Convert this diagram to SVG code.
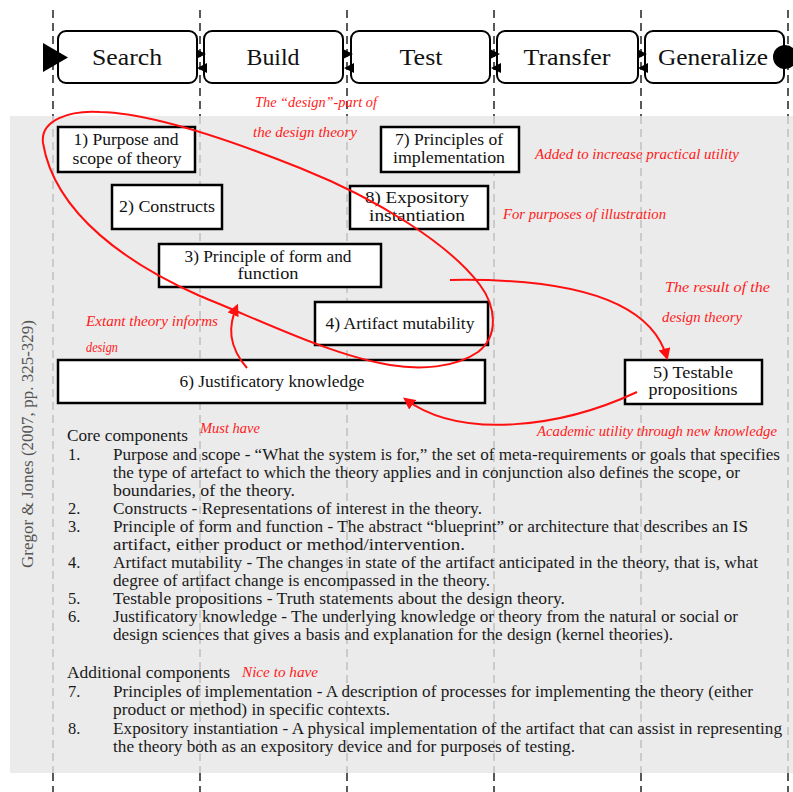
<svg xmlns="http://www.w3.org/2000/svg" width="793" height="792" viewBox="0 0 793 792">
  <defs>
    <style>
      .stage { fill: #fff; stroke: #000; stroke-width: 2; }
      .stage-label { font-family: "Liberation Serif", "DejaVu Serif", serif; font-size: 23px; fill: #111; text-anchor: middle; }
      .node { fill: #fff; stroke: #000; stroke-width: 2.5; }
      .node-label { font-family: "Liberation Serif", "DejaVu Serif", serif; font-size: 16px; fill: #111; text-anchor: middle; }
      .lane-out { stroke: #000; stroke-width: 1.3; stroke-dasharray: 8 5; fill: none; }
      .lane-in { stroke: #aaa; stroke-width: 1; stroke-dasharray: 8 5; fill: none; }
      .body { font-family: "Liberation Serif", "DejaVu Serif", serif; font-size: 16.5px; fill: #1a1a1a; }
      .note { font-family: "Liberation Serif", serif; font-style: italic; font-size: 14px; fill: #ff1a1a; }
      .red { fill: none; stroke: #ff1010; stroke-width: 2; }
      .flow-tip { fill: #000; }
    </style>
    <marker id="redhead" viewBox="0 0 10 10" refX="8" refY="5" markerWidth="6" markerHeight="6" markerUnits="strokeWidth" orient="auto">
      <path d="M0,0 L10,5 L0,10 Z" fill="#ff1010"/>
    </marker>
  </defs>

  <rect width="793" height="792" fill="#fff"/>
  <!-- shaded theory panel -->
  <rect x="10" y="116" width="783" height="657" fill="#ebebeb"/>

  <!-- lane separators -->
  <g id="lanes">
    <path class="lane-out" d="M53,10 V116 M200,10 V116 M347,10 V116 M494,10 V116 M641,10 V116 M788,10 V116"/>
    <path class="lane-in" d="M53,116 V773 M200,116 V773 M347,116 V773 M494,116 V773 M641,116 V773 M788,116 V773"/>
    <path class="lane-out" d="M53,773 V792 M200,773 V792 M347,773 V792 M494,773 V792 M641,773 V792 M788,773 V792"/>
  </g>

  <!-- process stages -->
  <g id="stage-search"><rect class="stage" x="58" y="31" width="139" height="52" rx="8"/><text class="stage-label" x="127" y="65" textLength="70" lengthAdjust="spacingAndGlyphs">Search</text></g>
  <g id="stage-build"><rect class="stage" x="204" y="31" width="139" height="52" rx="8"/><text class="stage-label" x="273" y="65" textLength="53" lengthAdjust="spacingAndGlyphs">Build</text></g>
  <g id="stage-test"><rect class="stage" x="351" y="31" width="139" height="52" rx="8"/><text class="stage-label" x="421" y="65" textLength="43" lengthAdjust="spacingAndGlyphs">Test</text></g>
  <g id="stage-transfer"><rect class="stage" x="497" y="31" width="141" height="52" rx="8"/><text class="stage-label" x="567" y="65" textLength="87" lengthAdjust="spacingAndGlyphs">Transfer</text></g>
  <g id="stage-generalize"><rect class="stage" x="645" y="31" width="139" height="52" rx="8"/><text class="stage-label" x="713" y="65" textLength="110" lengthAdjust="spacingAndGlyphs">Generalize</text></g>

  <!-- start / end and stage hand-offs -->
  <g id="flow">
    <path class="flow-tip" d="M43,43 L68,57.5 L43,72 Z"/>
    <circle cx="785" cy="57" r="12" fill="#000"/>
    <path class="flow-tip" d="M196,49 L206,54 L196,59 Z M207,63 L197,68 L207,73 Z"/>
    <path class="flow-tip" d="M343,49 L353,54 L343,59 Z M354,63 L344,68 L354,73 Z"/>
    <path class="flow-tip" d="M490,49 L500,54 L490,59 Z M501,63 L491,68 L501,73 Z"/>
    <path class="flow-tip" d="M637,49 L647,54 L637,59 Z M648,63 L638,68 L648,73 Z"/>
  </g>

  <!-- components -->
  <g id="node-1"><rect class="node" x="58" y="127" width="137" height="45"/><text class="node-label" x="126" y="145" textLength="105" lengthAdjust="spacingAndGlyphs">1) Purpose and</text><text class="node-label" x="127" y="164" textLength="109" lengthAdjust="spacingAndGlyphs">scope of theory</text></g>
  <g id="node-2"><rect class="node" x="112" y="185" width="110" height="44"/><text class="node-label" x="167" y="212" textLength="96" lengthAdjust="spacingAndGlyphs">2) Constructs</text></g>
  <g id="node-3"><rect class="node" x="159" y="244" width="222" height="43"/><text class="node-label" x="268" y="262" textLength="167" lengthAdjust="spacingAndGlyphs">3) Principle of form and</text><text class="node-label" x="268" y="279" textLength="61" lengthAdjust="spacingAndGlyphs">function</text></g>
  <g id="node-7"><rect class="node" x="381" y="127" width="138" height="45"/><text class="node-label" x="449" y="145" textLength="108" lengthAdjust="spacingAndGlyphs">7) Principles of</text><text class="node-label" x="449" y="163" textLength="112" lengthAdjust="spacingAndGlyphs">implementation</text></g>
  <g id="node-8"><rect class="node" x="350" y="186" width="138" height="43"/><text class="node-label" x="417" y="203" textLength="104" lengthAdjust="spacingAndGlyphs">8) Expository</text><text class="node-label" x="417" y="221" textLength="96" lengthAdjust="spacingAndGlyphs">instantiation</text></g>
  <g id="node-4"><rect class="node" x="315" y="302" width="173" height="43"/><text class="node-label" x="400" y="329" textLength="149" lengthAdjust="spacingAndGlyphs">4) Artifact mutability</text></g>
  <g id="node-6"><rect class="node" x="58" y="360" width="427" height="43"/><text class="node-label" x="272" y="387" textLength="185" lengthAdjust="spacingAndGlyphs">6) Justificatory knowledge</text></g>
  <g id="node-5"><rect class="node" x="625" y="360" width="137" height="44"/><text class="node-label" x="693" y="378" textLength="80" lengthAdjust="spacingAndGlyphs">5) Testable</text><text class="node-label" x="693" y="395" textLength="89" lengthAdjust="spacingAndGlyphs">propositions</text></g>

  <!-- red sketch connectors -->
  <g id="connectors">
    <!-- loop around the design part of the theory -->
    <path class="red" d="M43,143 C40,120 70,110 100,112 C150,113 230,140 300,168 C380,200 450,245 480,285 C495,305 500,335 478,352 C455,368 420,370 390,365 C330,355 260,320 200,296 C130,265 55,215 43,143 Z"/>
    <path class="red" d="M450,280 C560,278 650,296 667,358" marker-end="url(#redhead)"/>
    <path class="red" d="M637,392 C560,428 460,440 405,399" marker-end="url(#redhead)"/>
    <path class="red" d="M247,368 C228,346 228,326 237,306" marker-end="url(#redhead)"/>
  </g>

  <!-- red sketch notes -->
  <g id="notes">
    <text class="note" x="255" y="107" textLength="122" lengthAdjust="spacingAndGlyphs">The “design”-part of</text>
    <text class="note" x="253" y="137" textLength="104" lengthAdjust="spacingAndGlyphs">the design theory</text>
    <text class="note" x="535" y="159" textLength="204" lengthAdjust="spacingAndGlyphs">Added to increase practical utility</text>
    <text class="note" x="503" y="219" textLength="163" lengthAdjust="spacingAndGlyphs">For purposes of illustration</text>
    <text class="note" x="665" y="292" textLength="105" lengthAdjust="spacingAndGlyphs">The result of the</text>
    <text class="note" x="662" y="322" textLength="80" lengthAdjust="spacingAndGlyphs">design theory</text>
    <text class="note" x="86" y="326" textLength="132" lengthAdjust="spacingAndGlyphs">Extant theory informs</text>
    <text class="note" x="86" y="352" textLength="32" lengthAdjust="spacingAndGlyphs">design</text>
    <text class="note" x="200" y="433" textLength="60" lengthAdjust="spacingAndGlyphs">Must have</text>
    <text class="note" x="537" y="436" textLength="240" lengthAdjust="spacingAndGlyphs">Academic utility through new knowledge</text>
    <text class="note" x="242" y="677" textLength="76" lengthAdjust="spacingAndGlyphs">Nice to have</text>
  </g>

  <!-- source -->
  <text transform="translate(33,444) rotate(-90)" font-family="Liberation Serif, serif" font-size="17" fill="#555" text-anchor="middle" textLength="248" lengthAdjust="spacingAndGlyphs">Gregor &amp; Jones (2007, pp. 325-329)</text>

  <!-- component descriptions -->
  <g id="legend" class="body">
    <text x="67" y="441" textLength="121" lengthAdjust="spacingAndGlyphs">Core components</text>
    <text x="68" y="460">1.</text>
    <text x="113" y="460" textLength="667" lengthAdjust="spacingAndGlyphs">Purpose and scope - “What the system is for,” the set of meta-requirements or goals that specifies</text>
    <text x="113" y="478" textLength="627" lengthAdjust="spacingAndGlyphs">the type of artefact to which the theory applies and in conjunction also defines the scope, or</text>
    <text x="113" y="496" textLength="182" lengthAdjust="spacingAndGlyphs">boundaries, of the theory.</text>
    <text x="68" y="514">2.</text>
    <text x="113" y="514" textLength="369" lengthAdjust="spacingAndGlyphs">Constructs - Representations of interest in the theory.</text>
    <text x="68" y="532">3.</text>
    <text x="113" y="532" textLength="635" lengthAdjust="spacingAndGlyphs">Principle of form and function - The abstract “blueprint” or architecture that describes an IS</text>
    <text x="113" y="550" textLength="352" lengthAdjust="spacingAndGlyphs">artifact, either product or method/intervention.</text>
    <text x="68" y="568">4.</text>
    <text x="113" y="568" textLength="645" lengthAdjust="spacingAndGlyphs">Artifact mutability - The changes in state of the artifact anticipated in the theory, that is, what</text>
    <text x="113" y="586" textLength="377" lengthAdjust="spacingAndGlyphs">degree of artifact change is encompassed in the theory.</text>
    <text x="68" y="604">5.</text>
    <text x="113" y="604" textLength="452" lengthAdjust="spacingAndGlyphs">Testable propositions - Truth statements about the design theory.</text>
    <text x="68" y="622">6.</text>
    <text x="113" y="622" textLength="625" lengthAdjust="spacingAndGlyphs">Justificatory knowledge - The underlying knowledge or theory from the natural or social or</text>
    <text x="113" y="640" textLength="560" lengthAdjust="spacingAndGlyphs">design sciences that gives a basis and explanation for the design (kernel theories).</text>
    <text x="67" y="678" textLength="163" lengthAdjust="spacingAndGlyphs">Additional components</text>
    <text x="68" y="697">7.</text>
    <text x="113" y="697" textLength="640" lengthAdjust="spacingAndGlyphs">Principles of implementation - A description of processes for implementing the theory (either</text>
    <text x="113" y="715" textLength="277" lengthAdjust="spacingAndGlyphs">product or method) in specific contexts.</text>
    <text x="68" y="734">8.</text>
    <text x="113" y="734" textLength="669" lengthAdjust="spacingAndGlyphs">Expository instantiation - A physical implementation of the artifact that can assist in representing</text>
    <text x="113" y="752" textLength="462" lengthAdjust="spacingAndGlyphs">the theory both as an expository device and for purposes of testing.</text>
  </g>
</svg>
